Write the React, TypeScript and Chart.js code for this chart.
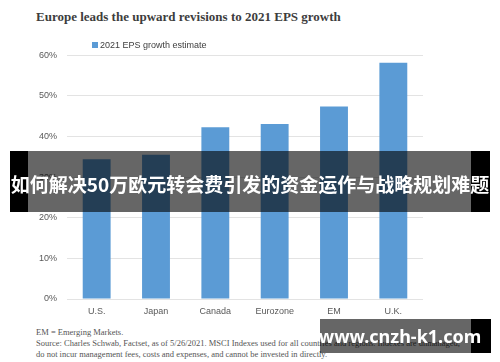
import React, { useEffect, useRef } from "react";
import { Chart, registerables } from "chart.js";

Chart.register(...registerables);

const categories: string[] = ["U.S.", "Japan", "Canada", "Eurozone", "EM", "U.K."];
const epsGrowth: number[] = [34.4, 35.5, 42.3, 43.1, 47.4, 58.2];
const seriesLabel = "2021 EPS growth estimate";
const yTicks: number[] = [0, 10, 20, 30, 40, 50, 60];
const titleText = "Europe leads the upward revisions to 2021 EPS growth";
const footLines: string[] = [
  "EM = Emerging Markets.",
  "Source: Charles Schwab, Factset, as of 5/26/2021. MSCI Indexes used for all countries and regions.  Indexes are unmanaged,",
  "do not incur management fees, costs and expenses, and cannot be invested in directly.",
];
const bannerText = "如何解决50万欧元转会费引发的资金运作与战略规划难题";
const watermarkText = "www.cnzh-k1.com";

const BAR = "#5B9BD5";
const SANS = "'Liberation Sans', Arial, sans-serif";
const SERIF = "'Liberation Serif', 'Times New Roman', serif";

export default function App() {
  const ref = useRef<HTMLCanvasElement | null>(null);

  useEffect(() => {
    document.body.style.margin = "0";
    if (!ref.current) return;
    const chart = new Chart(ref.current, {
      type: "bar",
      data: {
        labels: categories,
        datasets: [
          {
            label: seriesLabel,
            data: epsGrowth,
            backgroundColor: BAR,
            borderWidth: 0,
            barPercentage: 0.47,
            categoryPercentage: 1,
          },
        ],
      },
      options: {
        animation: false,
        responsive: false,
        devicePixelRatio: 1,
        layout: { padding: { top: 0, right: 17, left: 0, bottom: 0 } },
        plugins: {
          legend: { display: false },
          tooltip: { enabled: false },
          title: { display: false },
        },
        scales: {
          y: {
            min: yTicks[0],
            max: yTicks[yTicks.length - 1],
            afterBuildTicks: (s: any) => {
              s.ticks = yTicks.map((v) => ({ value: v }));
            },
            afterFit: (s: any) => {
              s.width = 67;
            },
            ticks: {
              callback: (v: any) => v + "%",
              font: { family: SANS, size: 9 },
              color: "#595959",
              padding: 10,
            },
            grid: { color: "#e3e3e3", drawTicks: false, lineWidth: 1 },
            border: { display: false },
          },
          x: {
            afterFit: (s: any) => {
              s.height = 24;
            },
            ticks: {
              font: { family: SANS, size: 9 },
              color: "#595959",
              padding: 7,
            },
            grid: { display: false, drawTicks: false },
            border: { display: false },
          },
        },
      },
    });
    return () => chart.destroy();
  }, []);

  return (
    <div
      style={{
        position: "fixed",
        left: 0,
        top: 0,
        width: 500,
        height: 362,
        background: "#fff",
        overflow: "hidden",
      }}
    >
      <div
        style={{
          position: "absolute",
          left: 36,
          top: 9,
          font: `bold 13px ${SERIF}`,
          lineHeight: "16px",
          color: "#3d3d3d",
          whiteSpace: "nowrap",
        }}
      >
        {titleText}
      </div>

      <div style={{ position: "absolute", left: 0, top: 40, width: 440, height: 283 }}>
        <canvas ref={ref} width={440} height={283} style={{ display: "block" }} />
      </div>

      <div
        style={{
          position: "absolute",
          left: 92,
          top: 39,
          height: 12,
          display: "flex",
          alignItems: "center",
          font: `9px ${SANS}`,
          color: "#404040",
          whiteSpace: "nowrap",
        }}
      >
        <span style={{ display: "inline-block", width: 6, height: 6, background: BAR, marginRight: 2 }} />
        <span>{seriesLabel}</span>
      </div>

      <div
        style={{
          position: "absolute",
          left: 36,
          top: 327,
          font: `8.5px ${SERIF}`,
          lineHeight: "11px",
          color: "#555",
          whiteSpace: "nowrap",
        }}
      >
        {footLines.map((t, i) => (
          <div key={i}>{t}</div>
        ))}
      </div>

      {/* overlay banner */}
      <div style={{ position: "absolute", left: 10, top: 151, width: 18, height: 61, background: "#000" }} />
      <div style={{ position: "absolute", left: 28, top: 151, width: 443, height: 61, background: "rgba(0,0,0,0.6)" }} />
      <div style={{ position: "absolute", left: 471, top: 151, width: 19, height: 61, background: "#000" }} />
      <div
        style={{
          position: "absolute",
          left: 10,
          top: 151,
          width: 480,
          height: 64,
          display: "flex",
          alignItems: "center",
          justifyContent: "center",
          font: `bold 19px 'Noto Sans CJK SC', sans-serif`,
          color: "#fff",
          whiteSpace: "nowrap",
        }}
      >
        {bannerText}
      </div>

      {/* watermark */}
      <div style={{ position: "absolute", left: 320, top: 319, width: 151, height: 34, background: "rgba(0,0,0,0.6)" }} />
      <div style={{ position: "absolute", left: 471, top: 319, width: 20, height: 34, background: "#000" }} />
      <div
        style={{
          position: "absolute",
          left: 320,
          top: 319,
          width: 160,
          height: 34,
          display: "flex",
          alignItems: "center",
          justifyContent: "center",
          font: `bold 18px 'Noto Sans', sans-serif`,
          color: "#fff",
          whiteSpace: "nowrap",
        }}
      >
        {watermarkText}
      </div>
    </div>
  );
}
